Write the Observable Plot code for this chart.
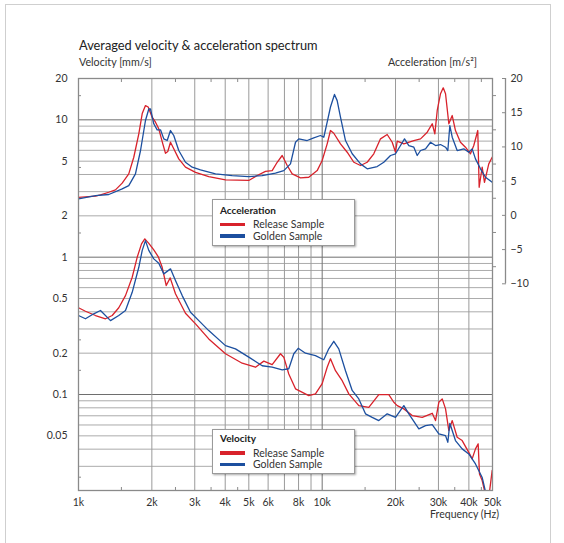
<!DOCTYPE html>
<html><head><meta charset="utf-8">
<script src="https://cdn.jsdelivr.net/npm/d3@7"></script>
<script src="https://cdn.jsdelivr.net/npm/@observablehq/plot@0.6"></script>
<style>
html,body{margin:0;padding:0;background:#fff;}
#wrap{position:relative;width:564px;height:543px;overflow:hidden;font-family:Lato,"Open Sans",sans-serif;color:#222;}
#wrap svg{position:absolute;left:0;top:0;}
.t{position:absolute;white-space:nowrap;line-height:1;}
.box{position:absolute;box-sizing:border-box;border:1px solid #9a9a9a;background:#fff;box-shadow:1px 1px 2px rgba(0,0,0,.35);}
.sw{position:absolute;width:25px;height:3.5px;}
.lt{position:absolute;font-size:10.5px;line-height:1;color:#333;white-space:nowrap;}
.outer{position:absolute;left:5px;top:4px;width:546px;height:560px;border:1px solid #cfcfcf;box-sizing:border-box;}
</style></head><body><div id="wrap"></div>
<script>
// ---- data ----
const accRelFreq = [1000,1174,1231,1331,1418,1511,1608,1686,1768,1826,1883,1932,2006,2070,2135,2218,2275,2325,2385,2460,2579,2748,3022,3424,4011,4998,5412,5854,6234,6537,6854,7185,7533,8147,8810,9539,10000,10484,10816,11159,11889,12667,13484,14366,15303,16285,17351,18485,19380,19997,20322,21633,23776,25331,26987,28292,28997,29659,30596,31388,32082,33096,34175,35237,36940,38726,40598,41890,43504,44083,45352,46353,48272,49855];
const accRelVal = [2.73,2.78,2.84,2.97,3.09,3.46,4.04,5.34,7.91,11.1,12.7,12.4,10.45,9.61,8.60,6.69,5.71,5.88,6.87,6.15,5.20,4.52,4.15,3.86,3.66,3.62,3.93,4.22,4.27,4.91,5.50,4.65,4.04,3.78,3.82,4.27,5.06,6.69,8.36,7.99,6.69,5.81,4.91,4.65,4.91,5.66,7.27,7.82,6.87,5.81,6.99,6.69,7.07,7.27,8.13,9.36,7.91,11.7,15.5,17.1,15.5,9.36,10.75,8.36,6.87,6.32,5.66,6.50,8.36,3.23,4.52,3.51,4.78,5.34];

const accGolFreq = [1000,1174,1331,1511,1608,1713,1797,1883,1943,1974,2037,2103,2170,2239,2312,2385,2460,2579,2748,2929,3167,3650,4273,4998,5674,6432,6958,7413,7772,8017,8678,9237,9840,10153,10484,10816,11234,11522,11889,12464,13280,14366,15303,16817,17902,19073,19997,20965,21773,22679,23776,24550,25331,26555,27840,29185,30596,32082,32784,33410,34175,35810,38116,39957,41258,42572,44634,46793,49855];
const accGolVal = [2.66,2.81,2.86,3.14,3.32,4.04,5.98,9.89,12.0,12.0,9.36,8.46,8.46,7.27,7.07,8.36,7.69,5.98,4.91,4.52,4.33,4.04,3.93,3.86,3.93,4.09,4.27,4.78,6.87,7.27,7.07,7.40,7.69,7.47,9.61,12.4,15.3,13.8,10.45,7.07,5.66,4.78,4.40,4.57,4.91,5.50,5.66,6.50,7.27,6.50,6.32,5.50,5.98,6.15,6.87,6.50,6.61,6.32,5.98,9.09,7.47,5.98,6.15,5.81,6.15,5.20,4.40,3.82,3.51];

const velRelFreq = [1000,1068,1174,1291,1375,1463,1559,1661,1741,1814,1871,1943,2037,2123,2205,2291,2378,2500,2748,3022,3424,4011,4696,5325,5761,6234,6744,6958,7294,7772,8810,9386,10000,10484,10816,11340,12082,12861,14136,15535,17075,18768,19677,20322,21633,23417,25738,28292,29185,30114,31093,32082,33096,34175,35810,37541,39957,41258,42572,43665,44215,45352,47000,48500,49855];
const velRelVal = [0.428,0.404,0.376,0.356,0.376,0.428,0.525,0.714,0.998,1.25,1.36,1.26,1.13,1.01,0.844,0.622,0.707,0.541,0.391,0.327,0.254,0.198,0.169,0.158,0.175,0.165,0.198,0.187,0.141,0.110,0.0982,0.101,0.120,0.158,0.182,0.149,0.126,0.101,0.0830,0.0807,0.0998,0.0998,0.0878,0.0830,0.0786,0.0702,0.0682,0.0730,0.0646,0.0878,0.0929,0.0786,0.0546,0.0646,0.0488,0.0462,0.0379,0.0340,0.0402,0.0437,0.0264,0.0236,0.018,0.019,0.028];

const velGolFreq = [1000,1068,1155,1231,1353,1463,1559,1661,1768,1826,1883,1943,2037,2135,2239,2385,2500,2664,2882,3117,3424,4011,4408,4998,5674,6234,6854,7294,7648,7972,8541,9386,10153,10643,11159,11698,12464,13280,14136,15059,16042,17075,18485,19997,21633,22679,24926,26555,28292,30114,32082,32784,33410,35237,37541,39957,42572,45352,47000,49855];
const velGolVal = [0.376,0.356,0.387,0.409,0.345,0.376,0.409,0.555,0.844,1.12,1.32,1.12,0.972,0.903,0.756,0.822,0.676,0.525,0.397,0.345,0.292,0.227,0.215,0.187,0.162,0.158,0.151,0.154,0.198,0.217,0.200,0.192,0.179,0.215,0.244,0.215,0.149,0.107,0.0929,0.0723,0.0682,0.0646,0.0723,0.0682,0.0830,0.0723,0.0562,0.0594,0.0604,0.0517,0.0502,0.0449,0.0617,0.0462,0.0402,0.0369,0.0312,0.0249,0.019,0.017];

// ticks & labels
const freqTickValues = [1000,2000,3000,4000,5000,6000,8000,10000,20000,30000,40000,50000];
const freqGrid = [2000,3000,4000,5000,6000,7000,8000,9000,20000,30000,40000];
const freqGridMajor = [10000];
const freqMinorTicks = [1500,2500,3500,4500,15000,25000,35000,45000];
const velTickValues = [0.05,0.1,0.2,0.5,1,2,5,10,20];
const velGridMinor = [0.03,0.04,0.05,0.06,0.07,0.08,0.09,0.2,0.3,0.4,0.5,0.6,0.7,0.8,0.9,2,3,4,5,6,7,8,9];
const velGridMajor = [0.1,1,10];
const velMinorTicks = [15,4.5,1.5,0.25,0.15,0.025];
const accTickValues = [20,15,10,5,0,-5,-10];
const accHalfTicks = [17.5,12.5,7.5,2.5,-2.5,-7.5];
const accDomain = [-10,20];

const RED = "#d8222b", BLUE = "#1c4f9f";
const rows = (fs, vs) => fs.map((f, i) => ({f, v: vs[i]}));

const font = "Lato, 'Open Sans', sans-serif";
const AX = "#8a8a8a";

const main = Plot.plot({
  width: 564, height: 543,
  marginLeft: 78, marginRight: 72, marginTop: 78, marginBottom: 53,
  style: {fontFamily: font, fontSize: "10.5px", color: "#333", background: "transparent"},
  x: {type: "log", domain: [1000, 50000]},
  y: {type: "log", domain: [0.02, 20]},
  marks: [
    Plot.ruleY(velGridMinor, {stroke: "#ababab", strokeWidth: 1}),
    Plot.ruleY(velGridMajor, {stroke: "#6e6e6e", strokeWidth: 1}),
    Plot.ruleX(freqGrid, {stroke: "#9a9a9a", strokeWidth: 1}),
    Plot.ruleX(freqGridMajor, {stroke: "#737373", strokeWidth: 1}),
    Plot.axisX(freqMinorTicks, {anchor: "bottom", tickSize: 3, dy: -3, tickFormat: () => "", stroke: AX, label: null}),
    Plot.axisX(freqMinorTicks, {anchor: "top", tickSize: 3, dy: 3, tickFormat: () => "", stroke: AX, label: null}),
    Plot.axisY(velMinorTicks, {anchor: "left", tickSize: 3, dx: 3, tickFormat: () => "", stroke: AX, label: null}),
    Plot.line(rows(accRelFreq, accRelVal), {x: "f", y: "v", stroke: RED, strokeWidth: 1.3, clip: true}),
    Plot.line(rows(accGolFreq, accGolVal), {x: "f", y: "v", stroke: BLUE, strokeWidth: 1.3, clip: true}),
    Plot.line(rows(velRelFreq, velRelVal), {x: "f", y: "v", stroke: RED, strokeWidth: 1.3, clip: true}),
    Plot.line(rows(velGolFreq, velGolVal), {x: "f", y: "v", stroke: BLUE, strokeWidth: 1.3, clip: true}),
    Plot.frame({stroke: AX, strokeWidth: 1.3}),
    Plot.text(velTickValues, {y: d => d, frameAnchor: "left", textAnchor: "end", dx: -11, text: d => String(d), fill: "#333"}),
    Plot.text(freqTickValues, {x: d => d, frameAnchor: "bottom", lineAnchor: "top", dy: 8, text: d => (d / 1000) + "k", fill: "#333"})
  ]
});

const right = Plot.plot({
  width: 564, height: 543,
  marginLeft: 78, marginRight: 59, marginTop: 78, marginBottom: 259.7,
  style: {fontFamily: font, fontSize: "10.5px", color: "#333", background: "transparent"},
  x: {domain: [0, 1], axis: null},
  y: {domain: accDomain},
  marks: [
    Plot.ruleX([1], {stroke: AX, strokeWidth: 1.3}),
    Plot.axisY(accTickValues, {anchor: "right", tickSize: 4, dx: -4, tickPadding: 5, stroke: AX, fill: "#333", label: null}),
    Plot.axisY(accHalfTicks, {anchor: "right", tickSize: 3, dx: -13, tickFormat: () => "", stroke: AX, label: null})
  ]
});

const wrap = document.getElementById("wrap");
wrap.appendChild(main);
wrap.appendChild(right);

function addText(txt, css, cls = "t") {
  const d = document.createElement("div");
  d.className = cls;
  d.textContent = txt;
  Object.assign(d.style, css);
  wrap.appendChild(d);
  return d;
}
function addDiv(cls, css) {
  const d = document.createElement("div");
  d.className = cls;
  Object.assign(d.style, css);
  wrap.appendChild(d);
  return d;
}

addDiv("outer", {});
addText("Averaged velocity & acceleration spectrum", {left: "79px", top: "39px", fontSize: "12.8px", color: "#222"});
addText("Velocity [mm/s]", {left: "79px", top: "56.5px", fontSize: "10.7px", color: "#333"});
addText("Acceleration [m/s²]", {left: "388px", top: "56.5px", fontSize: "10.7px", color: "#333"});
addText("Frequency (Hz)", {right: "65px", top: "508.5px", fontSize: "10.5px", color: "#333"});

const legends = [
  {title: "Acceleration", top: 199, h: 47, titleTop: 205, r: 222.5, b: 234},
  {title: "Velocity", top: 429, h: 45, titleTop: 433.2, r: 451, b: 462.5}
];
const seriesNames = ["Release Sample", "Golden Sample"];
for (const L of legends) {
  addDiv("box", {left: "212px", top: L.top + "px", width: "143px", height: L.h + "px"});
  addText(L.title, {left: "220px", top: L.titleTop + "px", fontSize: "10px", fontWeight: "700", color: "#222"});
  addDiv("sw", {left: "220px", top: L.r + "px", background: RED});
  addDiv("sw", {left: "220px", top: L.b + "px", background: BLUE});
  addText(seriesNames[0], {left: "253px", top: (L.r - 3.5) + "px"}, "lt");
  addText(seriesNames[1], {left: "253px", top: (L.b - 3.5) + "px"}, "lt");
}
</script></body></html>
